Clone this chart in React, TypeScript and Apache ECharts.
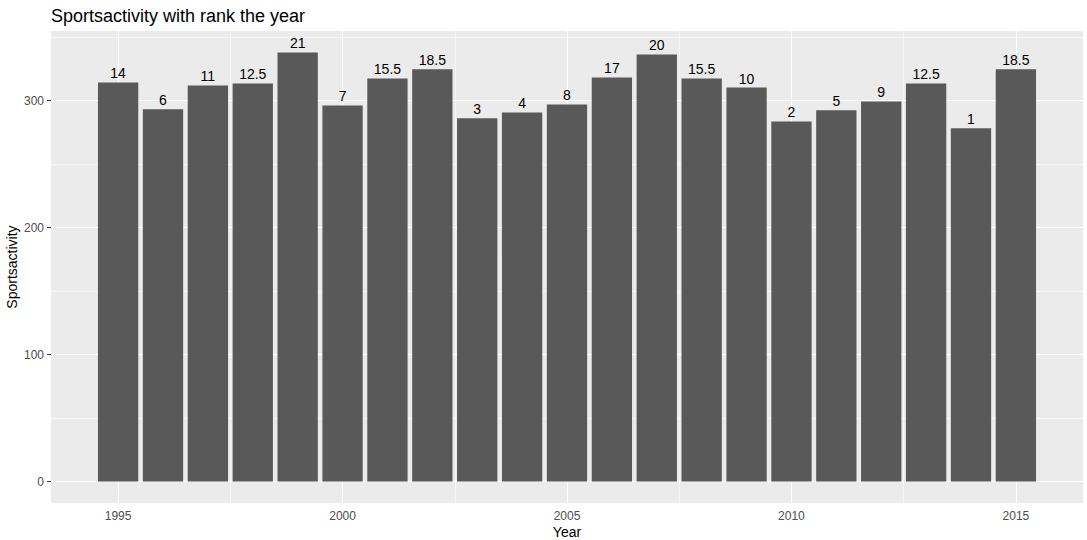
import React, { useEffect, useRef } from "react";
import * as echarts from "echarts";

const years = [1995, 1996, 1997, 1998, 1999, 2000, 2001, 2002, 2003, 2004, 2005, 2006, 2007, 2008, 2009, 2010, 2011, 2012, 2013, 2014, 2015];
const sportsactivity = [314.3, 293.1, 311.9, 313.5, 337.9, 296.2, 317.4, 324.6, 286.0, 290.7, 297.0, 318.2, 336.3, 317.4, 310.3, 283.6, 292.3, 299.3, 313.5, 278.2, 324.6];
const ranks = ["14", "6", "11", "12.5", "21", "7", "15.5", "18.5", "3", "4", "8", "17", "20", "15.5", "10", "2", "5", "9", "12.5", "1", "18.5"];
const xTicks = [1995, 2000, 2005, 2010, 2015];
const xMinor = [1997.5, 2002.5, 2007.5, 2012.5];
const yTicks = [0, 100, 200, 300];
const yMinor = [50, 150, 250, 350];

const FONT = "'Liberation Sans', Arial, sans-serif";

export default function App() {
  const ref = useRef<HTMLDivElement>(null);
  useEffect(() => {
    if (!ref.current) return;
    const chart = echarts.init(ref.current, undefined, { renderer: "svg" });
    const span = years[years.length - 1] - years[0] + 0.9;
    const xMin = years[0] - 0.45 - 0.05 * span;
    const xMax = years[years.length - 1] + 0.45 + 0.05 * span;
    const vmax = Math.max(...sportsactivity);
    const yMin = -0.05 * vmax;
    const yMax = vmax * 1.05;
    const gridLines = [
      ...xTicks.map((v) => ({ xAxis: v, lineStyle: { width: 1.1 } })),
      ...xMinor.map((v) => ({ xAxis: v, lineStyle: { width: 0.55 } })),
      ...yTicks.map((v) => ({ yAxis: v, lineStyle: { width: 1.1 } })),
      ...yMinor.map((v) => ({ yAxis: v, lineStyle: { width: 0.55 } })),
    ];
    chart.setOption({
      animation: false,
      textStyle: { fontFamily: FONT },
      title: {
        text: "Sportsactivity with rank the year",
        left: 46,
        top: 2,
        textStyle: { fontFamily: FONT, fontSize: 18, fontWeight: "normal", color: "#000" },
      },
      grid: {
        left: 51,
        right: 4,
        top: 31,
        bottom: 37,
        outerBoundsMode: "none",
        containLabel: false,
        show: true,
        backgroundColor: "#EBEBEB",
        borderWidth: 0,
      },
      xAxis: {
        type: "value",
        min: xMin,
        max: xMax,
        name: "Year",
        nameLocation: "middle",
        nameGap: 22,
        nameMoveOverlap: false,
        nameTextStyle: { fontFamily: FONT, fontSize: 14, color: "#000" },
        axisLine: { show: false },
        axisTick: { show: true, length: 4, customValues: xTicks, lineStyle: { color: "#333", width: 1 } },
        axisLabel: { customValues: xTicks, color: "#4D4D4D", fontSize: 12, margin: 7, fontFamily: FONT, formatter: (v: number) => String(v) },
        splitLine: { show: false },
      },
      yAxis: {
        type: "value",
        min: yMin,
        max: yMax,
        name: "Sportsactivity",
        nameLocation: "middle",
        nameGap: 32,
        nameMoveOverlap: false,
        nameTextStyle: { fontFamily: FONT, fontSize: 14, color: "#000" },
        axisLine: { show: false },
        axisTick: { show: true, length: 4, customValues: yTicks, lineStyle: { color: "#333", width: 1 } },
        axisLabel: { customValues: yTicks, color: "#4D4D4D", fontSize: 12, margin: 7, fontFamily: FONT, formatter: (v: number) => String(v) },
        splitLine: { show: false },
      },
      series: [
        {
          type: "bar",
          z: 2,
          barWidth: 40.3,
          itemStyle: { color: "#595959" },
          data: years.map((y, i) => [y, sportsactivity[i]]),
          label: {
            show: true,
            position: "top",
            distance: 2,
            fontFamily: FONT,
            fontSize: 14,
            color: "#000",
            formatter: (p: any) => ranks[p.dataIndex],
          },
          markLine: {
            z: 1,
            silent: true,
            symbol: "none",
            label: { show: false },
            lineStyle: { color: "#FFFFFF", type: "solid" },
            data: gridLines,
          },
        },
      ],
    });
    return () => chart.dispose();
  }, []);
  return <div ref={ref} style={{ width: 1087, height: 540, position: "absolute", left: 0, top: 0 }} />;
}
